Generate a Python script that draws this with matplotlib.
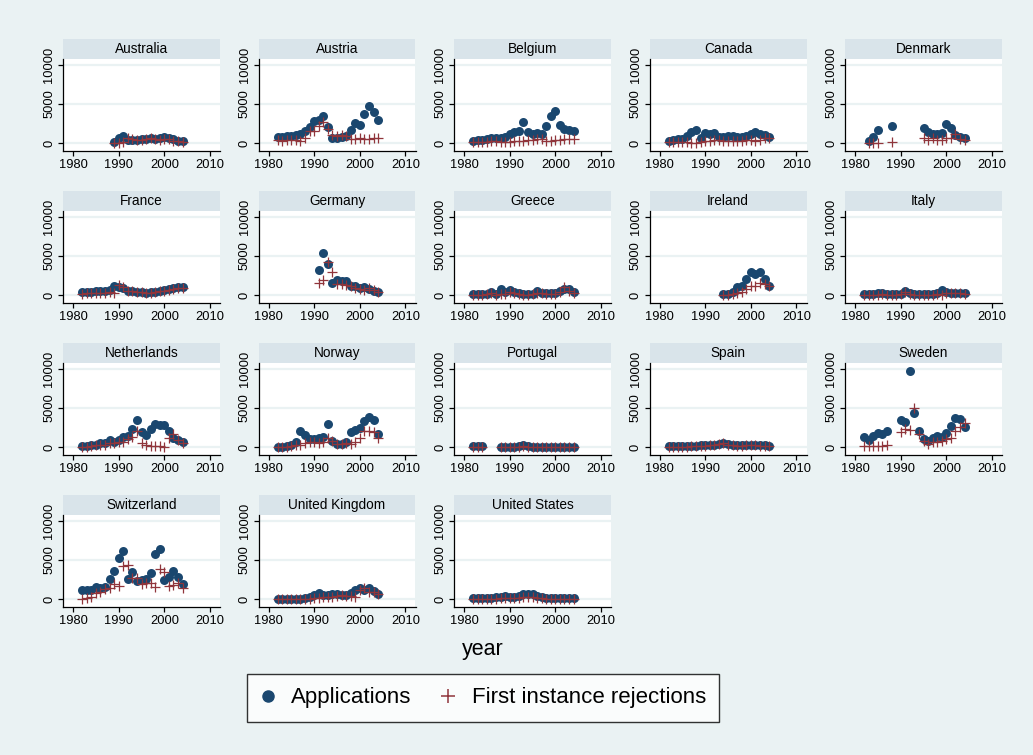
import numpy as np
import matplotlib
matplotlib.use('Agg')
from matplotlib import pyplot as plt
from matplotlib.patches import Rectangle
from matplotlib.lines import Line2D

plt.rcParams['font.family'] = ['Liberation Sans', 'DejaVu Sans']

years = list(range(1982, 2005))
countries = ['Australia', 'Austria', 'Belgium', 'Canada', 'Denmark',
             'France', 'Germany', 'Greece', 'Ireland', 'Italy',
             'Netherlands', 'Norway', 'Portugal', 'Spain', 'Sweden',
             'Switzerland', 'United Kingdom', 'United States']
N = None

# asylum applications, 1982-2004
apps = {
    'Australia': [N, N, N, N, N, N, N, 100, 700, 950, 400, 400, 400, 450, 550, 600, 500, 600, 750, 650, 450, 300, 200],
    'Austria': [800, 750, 900, 900, 1000, 1200, 1500, 2100, 2800, 2900, 3500, 2000, 600, 650, 800, 850, 1700, 2500, 2300, 3700, 4800, 4000, 3000],
    'Belgium': [300, 350, 400, 500, 700, 600, 600, 800, 1200, 1400, 1600, 2650, 1450, 1150, 1280, 1150, 2130, 3500, 4150, 2300, 1840, 1700, 1500],
    'Canada': [200, 400, 500, 500, 900, 1400, 1700, 700, 1300, 1200, 1300, 800, 800, 900, 900, 800, 800, 900, 1100, 1400, 1200, 1000, 800],
    'Denmark': [N, 200, 800, 1700, N, N, 2200, N, N, N, N, N, N, 1900, 1400, 1100, 1200, 1300, 2400, 1900, 1000, 800, 600],
    'France': [400, 400, 400, 500, 500, 500, 700, 1100, 1000, 900, 500, 500, 400, 400, 300, 400, 400, 500, 700, 800, 900, 1000, 1000],
    'Germany': [N, N, N, N, N, N, N, N, N, 3200, 5400, 3970, 1520, 1950, 1830, 1830, 1170, 1090, 870, 1000, 830, 570, 390],
    'Greece': [100, 100, 100, 150, 400, 100, 830, 400, 700, 350, 200, 100, 100, 150, 480, 300, 200, 200, 300, 500, 780, 780, 400],
    'Ireland': [N, N, N, N, N, N, N, N, N, N, N, N, 100, 100, 400, 1000, 1200, 2000, 2900, 2700, 2900, 2000, 1200],
    'Italy': [100, 150, 150, 200, 200, 150, 100, 100, 150, 560, 250, 150, 100, 100, 100, 150, 200, 700, 350, 250, 300, 250, 200],
    'Netherlands': [100, 150, 200, 300, 450, 550, 850, 600, 900, 1300, 1400, 2300, 3450, 1950, 1480, 2260, 2900, 2780, 2800, 2000, 1170, 870, 650],
    'Norway': [0, 0, 100, 300, 650, 2100, 1600, 1000, 1000, 1100, 1260, 3000, 800, 400, 400, 600, 1900, 2200, 2400, 3300, 3900, 3500, 1700],
    'Portugal': [100, 100, 100, N, N, N, 50, 50, 50, 50, 100, 250, 100, 50, 50, 50, 50, 50, 50, 50, 50, 50, 50],
    'Spain': [100, 100, 100, 100, 100, 100, 150, 200, 200, 250, 300, 400, 450, 350, 250, 200, 200, 250, 250, 250, 200, 200, 150],
    'Sweden': [1250, 860, 1470, 1770, 1720, 2110, N, N, 3450, 3190, 9700, 4310, 2110, 1030, 730, 1120, 1420, 1250, 1810, 2670, 3750, 3620, 2500],
    'Switzerland': [1100, 1200, 1150, 1500, 1400, 1600, 2500, 3600, 5300, 6100, 2600, 3500, 2300, 2400, 2500, 3300, 5800, 6400, 2400, 2800, 3600, 2800, 1900],
    'United Kingdom': [50, 50, 50, 50, 50, 50, 100, 300, 500, 800, 500, 500, 600, 700, 500, 500, 800, 1200, 1400, 1200, 1400, 1000, 700],
    'United States': [100, 100, 100, 100, 100, 200, 300, 400, 300, 300, 400, 600, 600, 600, 400, 200, 100, 100, 100, 100, 100, 100, 100],
}

# first instance rejections, 1982-2004
rejections = {
    'Australia': [N, N, N, N, N, N, N, 0, 0, 100, 600, 500, 400, 400, 500, 700, 450, 400, 500, 500, 300, 200, 100],
    'Austria': [400, 300, 350, 350, 350, 300, 600, 1600, 1500, 2200, 2700, 1800, 1000, 900, 1000, 900, 500, 500, 600, 500, 550, 600, 600],
    'Belgium': [100, 100, 150, 150, 200, 250, 150, 100, 150, 200, 250, 300, 350, 400, 500, 500, 300, 300, 400, 400, 450, 500, 550],
    'Canada': [100, 100, 100, 100, 100, 50, 0, 100, 200, 300, 400, 400, 300, 200, 300, 300, 300, 400, 400, 300, 400, 600, 600],
    'Denmark': [N, 0, 0, 0, N, N, 100, N, N, N, N, N, N, 600, 400, 600, 400, 400, 700, 700, 1100, 500, 400],
    'France': [100, 200, 200, 300, 300, 300, 400, 300, 1300, 1000, 500, 450, 400, 350, 300, 300, 350, 450, 550, 650, 750, 900, 900],
    'Germany': [N, N, N, N, N, N, N, N, N, 1600, 1950, 4260, 2950, 1430, 1430, 1220, 1090, 960, 780, 650, 870, 650, 430],
    'Greece': [0, 0, 50, 100, 200, 50, 100, 100, 400, 300, 100, 50, 50, 100, 200, 200, 100, 100, 150, 400, 1000, 500, 300],
    'Ireland': [N, N, N, N, N, N, N, N, N, N, N, N, 0, 0, 100, 200, 400, 800, 1200, 1200, 1500, 1400, 1200],
    'Italy': [50, 50, 50, 50, 100, 50, 50, 50, 100, 400, 100, 50, 50, 50, 50, 50, 100, 0, 300, 200, 250, 200, 150],
    'Netherlands': [0, 0, 100, 200, 200, 300, 500, 500, 700, 700, 1000, 1300, 2100, 500, 200, 100, 100, 100, 0, 1100, 1700, 900, 500],
    'Norway': [0, 0, 0, 100, 200, 300, 500, 700, 600, 500, 600, 1100, 800, 400, 400, 500, 400, 700, 1100, 2000, 2000, 1900, 1100],
    'Portugal': [50, 50, 50, N, N, N, 0, 0, 0, 0, 50, 100, 50, 0, 0, 0, 0, 0, 0, 0, 0, 0, 0],
    'Spain': [50, 50, 50, 50, 50, 100, 100, 150, 150, 200, 250, 350, 500, 300, 200, 150, 150, 200, 200, 200, 150, 150, 100],
    'Sweden': [100, 100, 150, 150, 150, 200, N, N, 1900, 2330, 2160, 5000, 1680, 730, 430, 650, 600, 780, 1080, 1160, 2070, 2540, 3020],
    'Switzerland': [0, 100, 300, 800, 900, 1300, 1400, 1900, 1700, 4200, 4300, 2700, 2700, 1900, 2100, 2000, 1600, 3800, 3400, 1700, 1800, 2000, 1400],
    'United Kingdom': [0, 0, 0, 0, 0, 0, 0, 50, 100, 100, 200, 200, 300, 400, 500, 400, 400, 200, 1100, 1400, 900, 900, 700],
    'United States': [0, 0, 0, 0, 50, 50, 100, 150, 100, 100, 150, 200, 200, 200, 150, 100, 50, 50, 50, 50, 50, 50, 50],
}

bg = '#eaf2f3'
strip = '#d9e4ea'
navy = '#1a476f'
maroon = '#90353b'

W, H = 1033, 755
fig = plt.figure(figsize=(W / 100, H / 100), dpi=100)
fig.patch.set_facecolor(bg)

pw, ph, sh = 157, 92, 20
for i, c in enumerate(countries):
    r, col = divmod(i, 5)
    left = 63 + 195.5 * col
    bottom = 151 + 152 * r
    ax = fig.add_axes([left / W, 1 - bottom / H, pw / W, ph / H])
    ax.set_facecolor('white')
    a = np.array(apps[c], dtype=float)
    rj = np.array(rejections[c], dtype=float)
    ax.set_axisbelow(True)
    ax.grid(axis='y', color=bg, linewidth=1.6)
    ax.scatter(years, a, s=42, color=navy, linewidths=0, zorder=3)
    ax.scatter(years, rj, s=42, marker='+', color=maroon, linewidths=0.9, zorder=4)
    ax.set_xlim(1977.8, 2012.2)
    ax.set_ylim(-1026, 10769)
    ax.set_xticks([1980, 1990, 2000, 2010])
    ax.set_yticks([0, 5000, 10000])
    ax.tick_params(axis='both', direction='out', length=3.5, width=0.9,
                   labelsize=9.3, pad=2, colors='black')
    ax.tick_params(axis='y', labelrotation=90)
    for lab in ax.get_yticklabels():
        lab.set_va('center')
    for s in ['top', 'right']:
        ax.spines[s].set_visible(False)
    for s in ['left', 'bottom']:
        ax.spines[s].set_linewidth(0.9)
    ax.add_patch(Rectangle((0, 1), 1, sh / ph, transform=ax.transAxes,
                           facecolor=strip, edgecolor='none', clip_on=False))
    ax.text(0.5, 1 + sh / ph / 2, c, transform=ax.transAxes, ha='center',
            va='center', fontsize=9.8)

fig.text(483 / W, 1 - 650 / H, 'year', ha='center', va='center', fontsize=15.5)

handles = [Line2D([], [], marker='o', linestyle='none', color=navy, markersize=8),
           Line2D([], [], marker='+', linestyle='none', color=maroon, markersize=10,
                  markeredgewidth=1.1)]
leg = fig.legend(handles, ['Applications', 'First instance rejections'], ncol=2,
                 loc='center', bbox_to_anchor=(483 / W, 1 - 698 / H), fontsize=16,
                 frameon=True, fancybox=False, edgecolor='black', facecolor='white',
                 handlelength=0.7, handletextpad=0.7, columnspacing=1.3,
                 borderpad=0.6, borderaxespad=0)
leg.get_frame().set_linewidth(1.0)

fig.savefig('out.png', dpi=100, facecolor=bg)
